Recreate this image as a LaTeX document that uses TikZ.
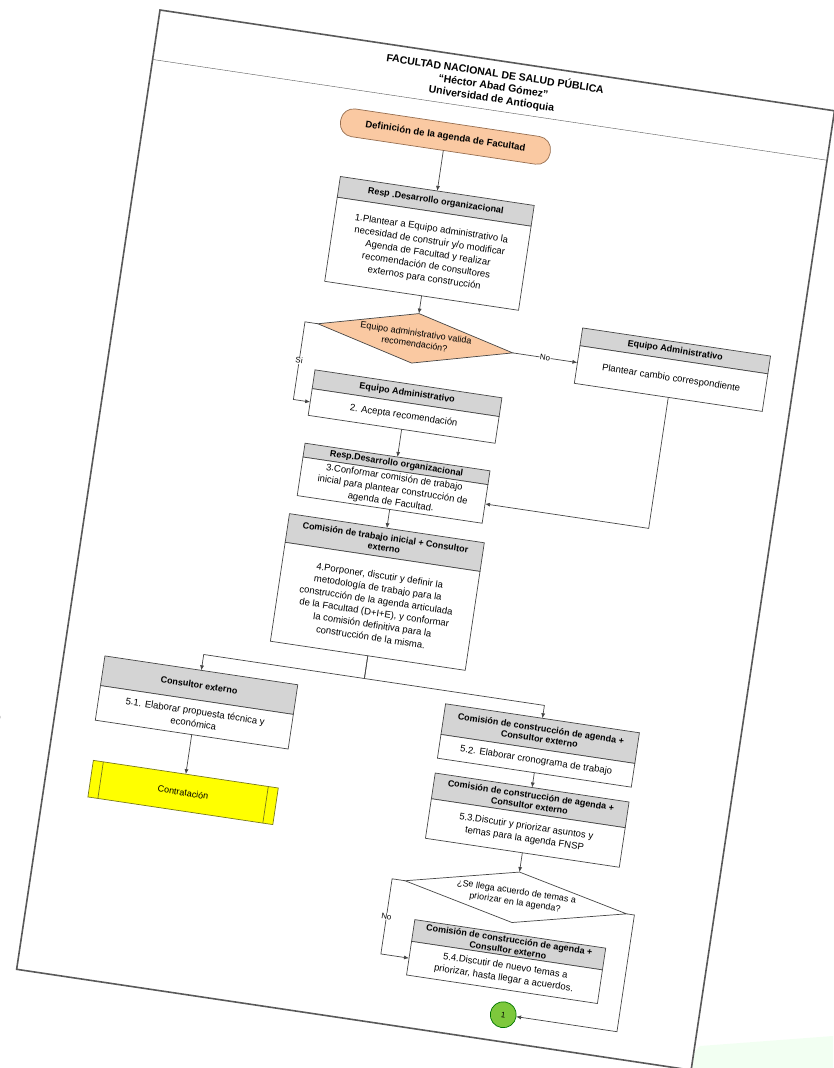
\documentclass[tikz,border=0pt]{standalone}
\usepackage{fontspec}
\setmainfont{Liberation Sans}
\usetikzlibrary{arrows.meta,positioning,shapes.geometric,calc}
\definecolor{hdrgray}{RGB}{212,212,212}
\definecolor{peach}{RGB}{250,201,162}
\definecolor{peachline}{RGB}{150,110,80}
\definecolor{lineg}{RGB}{70,70,70}
\definecolor{yel}{RGB}{255,255,0}
\definecolor{yelline}{RGB}{120,120,30}
\definecolor{grn}{RGB}{125,200,60}
\begin{document}
\begin{tikzpicture}[x=1pt,y=1pt,
  hdr/.style={draw=lineg, line width=0.7, fill=hdrgray, font=\fontsize{9}{10.5}\selectfont\bfseries, align=center},
  body/.style={draw=lineg, line width=0.7, fill=white, font=\fontsize{9.5}{12.5}\selectfont, align=center},
  decision/.style={diamond, draw=lineg, line width=0.7, inner sep=0pt},
  lbl/.style={font=\fontsize{8}{9}\selectfont, fill=white, inner sep=0.5pt},
  arr/.style={draw=lineg, line width=0.7, -{Latex[length=5pt,width=4pt]}}]
\tikzstyle{every node}+=[inner sep=1pt, outer sep=0pt]
\useasboundingbox (0,0) rectangle (833,-1068);
\fill[green!5] (680,-1068) -- (833,-1068) -- (833,-1036) -- (700,-1046) -- cycle;
\node[font=\fontsize{14}{14}\selectfont] (frag) at (-3,-718) {o};
\begin{scope}[shift={(160,-10)}, rotate=-8.5, transform shape]
% page and heading
\draw[gray!70!black, line width=1.6, fill=white] (0,0) rectangle (682,-970);
\draw[lineg!90] (0,-50) -- (682,-50);
\node[font=\fontsize{10.5}{12.5}\selectfont\bfseries, align=center] (title) at (341,-26) {FACULTAD NACIONAL DE SALUD PÚBLICA\\“Héctor Abad Gómez”\\Universidad de Antioquia};
\node[draw=peachline, line width=0.7, fill=peach, rounded corners=13, minimum width=212, minimum height=28, font=\fontsize{9.5}{11}\selectfont\bfseries] (start) at (301,-83) {Definición de la  agenda de Facultad};
% main column
\node[hdr, minimum width=196, minimum height=21] (h1) at (301,-148.5) {Resp .Desarrollo organizacional};
\node[body, minimum width=196, minimum height=85, below=0pt of h1] (b1) {1.Plantear a Equipo administrativo la\\necesidad de construir y/o modificar\\Agenda de Facultad y realizar\\recomendación de consultores\\externos para construcción};
\node[decision, fill=peach, minimum width=197, minimum height=50, label={[font=\fontsize{9}{11}\selectfont, align=center]center:{Equipo administrativo valida\\recomendación?}}] (d1) at (301,-287) {};
\node[hdr, minimum width=189, minimum height=19] (h2) at (301,-342.5) {Equipo Administrativo};
\node[body, minimum width=189, minimum height=27, below=0pt of h2] (b2) {2. Acepta recomendación};
\node[hdr, minimum width=190, minimum height=18] (hc) at (560,-261) {Equipo Administrativo};
\node[body, minimum width=190, minimum height=38, below=0pt of hc] (bc) {Plantear cambio correspondiente};
\node[hdr, minimum width=187, minimum height=14] (h3) at (301,-414) {Resp.Desarrollo organizacional};
\node[body, minimum width=187, minimum height=39, below=0pt of h3] (b3) {3.Conformar comisión de trabajo\\inicial para plantear construcción de\\agenda de Facultad.};
\node[hdr, minimum width=197, minimum height=29] (h4) at (301,-493.5) {Comisión de trabajo  inicial + Consultor\\externo};
\node[body, minimum width=197, minimum height=100, below=0pt of h4] (b4) {4.Porponer, discutir y definir la\\metodología de trabajo para la\\construcción de la agenda articulada\\de la Facultad (D+I+E), y conformar\\la comisión definitiva para la\\construcción de la misma.};
% left branch
\node[hdr, minimum width=195, minimum height=30] (h51) at (138.5,-662) {Consultor externo};
\node[body, minimum width=195, minimum height=35, below=0pt of h51] (b51) {5.1. Elaborar  propuesta técnica y\\económica};
\node[draw=yelline, line width=0.7, fill=yel, minimum width=187, minimum height=37, font=\fontsize{9}{11}\selectfont] (contr) at (138.5,-770.5) {Contratación};
\draw[yelline, line width=0.7] ($(contr.north west)!0.054!(contr.north east)$) -- ($(contr.south west)!0.054!(contr.south east)$);
\draw[yelline, line width=0.7] ($(contr.north east)!0.054!(contr.north west)$) -- ($(contr.south east)!0.054!(contr.south west)$);
% right branch
\node[hdr, minimum width=196, minimum height=31] (h52) at (483,-659.5) {Comisión de construcción de agenda +\\Consultor externo};
\node[body, minimum width=196, minimum height=24, below=0pt of h52] (b52) {5.2. Elaborar cronograma de trabajo};
\node[hdr, minimum width=196, minimum height=26] (h53) at (483,-727) {Comisión de construcción de agenda +\\Consultor externo};
\node[body, minimum width=196, minimum height=40, below=0pt of h53] (b53) {5.3.Discutir y priorizar asuntos y\\temas para la agenda FNSP};
\node[decision, fill=white, minimum width=224, minimum height=51, label={[font=\fontsize{9}{11}\selectfont, align=center]center:{¿Se llega acuerdo  de temas a\\priorizar en la agenda?}}] (d2) at (483,-825) {};
\node[hdr, minimum width=193, minimum height=22] (h54) at (483,-873) {Comisión de construcción de agenda +\\Consultor externo};
\node[body, minimum width=193, minimum height=34, below=0pt of h54] (b54) {5.4.Discutir de nuevo temas a\\priorizar, hasta llegar a acuerdos.};
\node[circle, draw=green!45!black, line width=0.7, fill=grn, minimum size=26, font=\fontsize{8}{9}\selectfont] (conn) at (488,-943) {1};
% connectors
\draw[arr] (start) -- (h1);
\draw[arr] (b1) -- (d1);
\draw[arr] (d1.west) -- ++(-13,0) |- node[lbl, pos=0.25] (si) {Si} (b2.west);
\draw[arr] (d1.east) -- node[lbl] (no1) {No} (d1.east -| bc.west);
\draw[arr] (b2) -- (h3);
\draw[arr] (bc.south) |- (b3.east);
\draw[arr] (b3) -- (h4);
\draw[arr] (b4.south) -- ++(0,-23) -| (h51.north);
\draw[arr] (b4.south) -- ++(0,-23) -| (h52.north);
\draw[arr] (b51) -- (contr);
\draw[arr] (b52) -- (h53);
\draw[arr] (b53) -- (d2);
\draw[arr] (d2.west) -- ++(-13,0) |- node[lbl, pos=0.25] (no2) {No} (b54.west);
\draw[arr] (d2.east) -- ++(8,0) |- (conn.east);
\end{scope}
\end{tikzpicture}
\end{document}
